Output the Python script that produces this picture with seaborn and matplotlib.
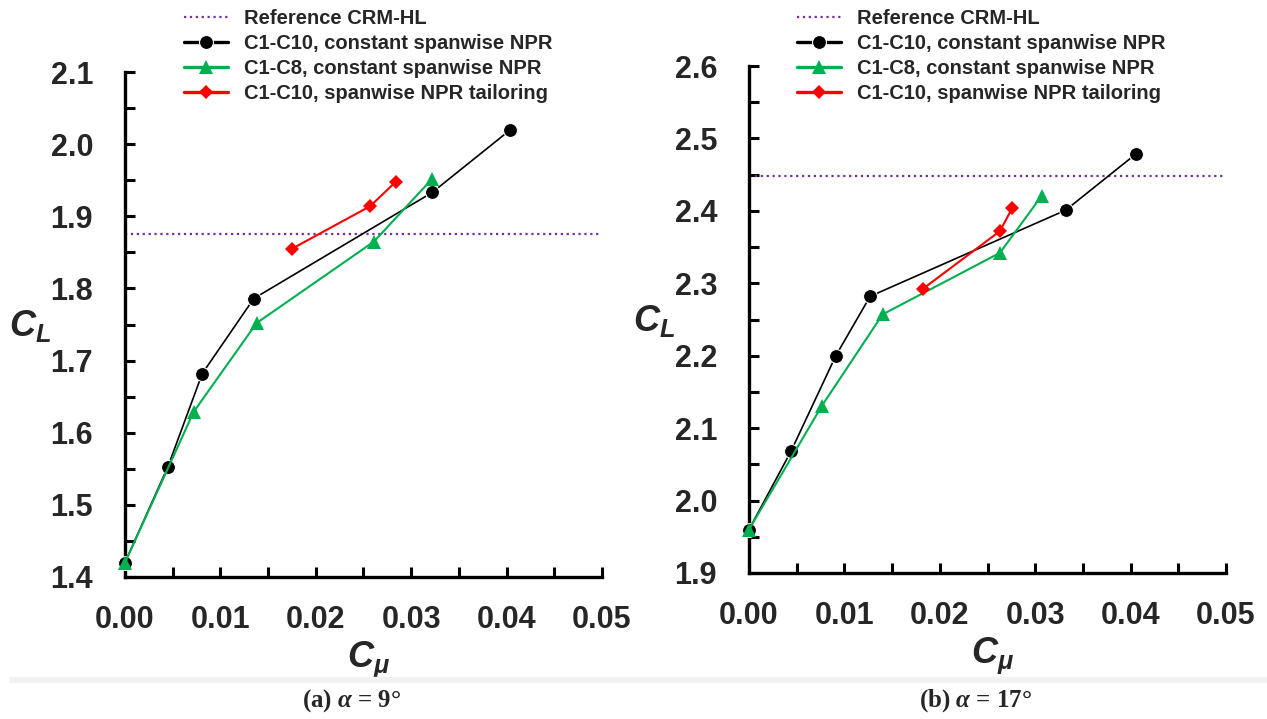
import matplotlib
matplotlib.use("Agg")
import matplotlib.pyplot as plt
from matplotlib.ticker import MultipleLocator, FormatStrFormatter
from matplotlib.patches import Rectangle
import seaborn as sns
import pandas as pd

# (a) alpha = 9 deg
a_c10_cmu = [0.0, 0.0045, 0.0081, 0.0135, 0.0322, 0.0404]
a_c10_cl = [1.420, 1.553, 1.682, 1.786, 1.933, 2.020]
a_c8_cmu = [0.0, 0.0072, 0.0138, 0.0261, 0.0322]
a_c8_cl = [1.420, 1.629, 1.752, 1.865, 1.952]
a_tail_cmu = [0.0175, 0.0257, 0.0284]
a_tail_cl = [1.855, 1.914, 1.948]
a_ref = 1.875

# (b) alpha = 17 deg
b_c10_cmu = [0.0, 0.0044, 0.0091, 0.0127, 0.0332, 0.0406]
b_c10_cl = [1.960, 2.068, 2.200, 2.282, 2.401, 2.479]
b_c8_cmu = [0.0, 0.0076, 0.0140, 0.0263, 0.0307]
b_c8_cl = [1.960, 2.130, 2.257, 2.342, 2.421]
b_tail_cmu = [0.0182, 0.0263, 0.0276]
b_tail_cl = [2.292, 2.372, 2.404]
b_ref = 2.448

labels = ["Reference CRM-HL", "C1-C10, constant spanwise NPR",
          "C1-C8, constant spanwise NPR", "C1-C10, spanwise NPR tailoring"]
captions = [r"(a) $\alpha$ = 9°", r"(b) $\alpha$ = 17°"]

sns.set_theme(style="ticks")
plt.rcParams["font.family"] = ["Liberation Sans", "DejaVu Sans"]
plt.rcParams["font.weight"] = "bold"
plt.rcParams["mathtext.fontset"] = "custom"
plt.rcParams["mathtext.sf"] = "Liberation Sans:bold:italic"
plt.rcParams["mathtext.it"] = "Liberation Serif:bold:italic"
plt.rcParams["mathtext.rm"] = "Liberation Serif:bold"


def panel(ax, c10, c8, tail, ref, ylim, legend_x):
    ax.axhline(ref, color="#7030A0", linestyle=":", linewidth=1.6, label=labels[0])
    df10 = pd.DataFrame({"Cmu": c10[0], "CL": c10[1]})
    df8 = pd.DataFrame({"Cmu": c8[0], "CL": c8[1]})
    dft = pd.DataFrame({"Cmu": tail[0], "CL": tail[1]})
    sns.lineplot(data=df10, x="Cmu", y="CL", ax=ax, color="black", marker="o",
                 markersize=10, linewidth=1.2, sort=False, label=labels[1],
                 clip_on=False, zorder=4)
    sns.lineplot(data=df8, x="Cmu", y="CL", ax=ax, color="#00B050", marker="^",
                 markersize=10, linewidth=1.5, markeredgewidth=0, sort=False,
                 label=labels[2], clip_on=False, zorder=5)
    sns.lineplot(data=dft, x="Cmu", y="CL", ax=ax, color="#FF0000", marker="D",
                 markersize=7, linewidth=1.5, markeredgewidth=0, sort=False,
                 label=labels[3], clip_on=False, zorder=5)
    ax.set_xlim(0, 0.05)
    ax.set_ylim(*ylim)
    ax.xaxis.set_major_locator(MultipleLocator(0.01))
    ax.xaxis.set_minor_locator(MultipleLocator(0.005))
    ax.yaxis.set_major_locator(MultipleLocator(0.1))
    ax.yaxis.set_minor_locator(MultipleLocator(0.05))
    ax.xaxis.set_major_formatter(FormatStrFormatter("%.2f"))
    ax.yaxis.set_major_formatter(FormatStrFormatter("%.1f"))
    ax.tick_params(which="both", direction="in", length=7, width=2.2, color="black")
    ax.tick_params(axis="x", which="major", pad=20, labelsize=22)
    ax.tick_params(axis="y", which="major", pad=23, labelsize=22)
    for t in ax.get_xticklabels() + ax.get_yticklabels():
        t.set_fontweight("bold")
    sns.despine(ax=ax)
    for s in ["left", "bottom"]:
        ax.spines[s].set_linewidth(2.4)
        ax.spines[s].set_color("black")
    ax.set_xlabel(r"$\mathsf{C_\mu}$", fontsize=26, va="center", ha="center")
    ax.set_ylabel(r"$\mathsf{C_L}$", fontsize=26, rotation=0, va="center", ha="center")
    ax.xaxis.set_label_coords(0.51, -0.165)
    ax.yaxis.set_label_coords(-0.199, 0.497)
    ax.grid(False)
    leg = ax.legend(loc="upper left", bbox_to_anchor=(legend_x, 0.9875),
                    bbox_transform=fig.transFigure, frameon=False, borderpad=0,
                    borderaxespad=0, handlelength=2.2, handletextpad=0.8,
                    labelspacing=0.305,
                    prop={"family": "Liberation Sans", "weight": "bold", "size": 14.5})
    for h in leg.get_lines()[1:]:
        h.set_linewidth(2.4)


fig = plt.figure(figsize=(12.67, 7.19), dpi=100)
ax1 = fig.add_axes([125 / 1267, 1 - 577 / 719, 477 / 1267, 505 / 719])
ax2 = fig.add_axes([749 / 1267, 1 - 573 / 719, 477 / 1267, 507 / 719])

panel(ax1, (a_c10_cmu, a_c10_cl), (a_c8_cmu, a_c8_cl), (a_tail_cmu, a_tail_cl),
      a_ref, (1.4, 2.1), 184 / 1267)
panel(ax2, (b_c10_cmu, b_c10_cl), (b_c8_cmu, b_c8_cl), (b_tail_cmu, b_tail_cl),
      b_ref, (1.9, 2.6), 797 / 1267)

fig.patches.append(Rectangle((10 / 1267, 1 - 682 / 719), 1.0, 5 / 719,
                             transform=fig.transFigure, color="#f2f2f2", zorder=0))
fig.text(352 / 1267, 1 - 701 / 719, captions[0], ha="center", va="center",
         fontsize=18, family="Liberation Serif", weight="bold")
fig.text(976 / 1267, 1 - 701 / 719, captions[1], ha="center", va="center",
         fontsize=18, family="Liberation Serif", weight="bold")

fig.savefig("out.png", dpi=100)
